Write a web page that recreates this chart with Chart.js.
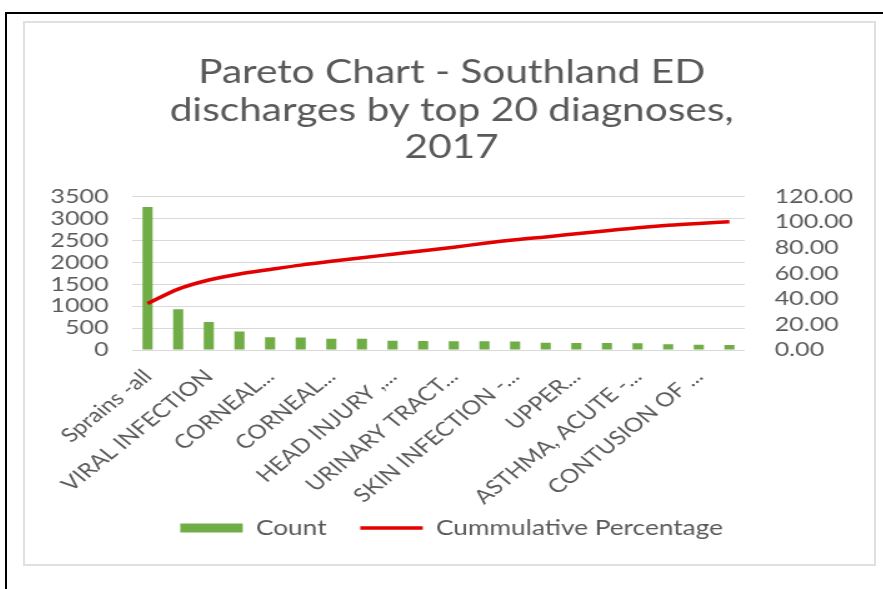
<!DOCTYPE html>
<html>
<head>
<meta charset="utf-8">
<script src="https://cdn.jsdelivr.net/npm/chart.js@4.4.1/dist/chart.umd.min.js"></script>
<style>
  html, body { margin: 0; padding: 0; background: #fff; }
  body { width: 883px; height: 589px; position: relative; overflow: hidden; }
  #frame { position: absolute; left: 5px; top: 12px; width: 900px; height: 600px; border-top: 2px solid #000; border-left: 2px solid #000; }
  #box { position: absolute; left: 23px; top: 21px; width: 849px; height: 541px; border: 2px solid #e0e0e0; }
  /* the reference picture is stretched sideways, so the chart is too */
  #wrap { position: absolute; left: 26px; top: 24px; width: 676px; height: 539px; transform: scaleX(1.25); transform-origin: 0 0; }
</style>
</head>
<body>
<div id="frame"></div>
<div id="box"></div>
<div id="wrap"><canvas id="pareto" width="676" height="539"></canvas></div>
<script>
// only every other category name can be read on the axis
const categories = ['Sprains -all', '', 'VIRAL INFECTION', '', 'CORNEAL...', '', 'CORNEAL...', '',
  'HEAD INJURY ,...', '', 'URINARY TRACT...', '', 'SKIN INFECTION -...', '', 'UPPER...', '',
  'ASTHMA, ACUTE -...', '', 'CONTUSION OF ...', ''];
const counts = [3250, 925, 635, 420, 290, 285, 258, 255, 210, 205, 200, 198, 195, 165, 160, 158, 155, 130, 118, 115];
const cumPercent = [36.2, 47.5, 54.6, 59.3, 62.8, 66.2, 69.2, 72.0, 74.7, 77.4, 80.2, 83.2, 85.9, 88.2, 90.6, 93.0, 95.3, 97.2, 98.7, 100];
const titleLines = ['Pareto Chart - Southland ED', 'discharges by top 20 diagnoses,', '2017'];

const grey = '#595959';
const fam = 'Lato, "Open Sans", sans-serif';

new Chart(document.getElementById('pareto'), {
  data: {
    labels: categories,
    datasets: [{
      type: 'bar',
      label: 'Count',
      data: counts,
      backgroundColor: '#70ad47',
      barPercentage: 0.33,
      categoryPercentage: 1,
      yAxisID: 'y',
      order: 1
    }, {
      type: 'line',
      label: 'Cummulative Percentage',
      data: cumPercent,
      borderColor: '#e30000',
      backgroundColor: '#e30000',
      borderWidth: 3.5,
      pointRadius: 0,
      cubicInterpolationMode: 'monotone',
      yAxisID: 'y1',
      order: 0
    }]
  },
  options: {
    responsive: false,
    animation: false,
    layout: { padding: { left: 18, right: 13, top: 0, bottom: 14.5 } },
    scales: {
      x: {
        grid: { display: false },
        border: { display: false },
        ticks: {
          autoSkip: false, minRotation: 45, maxRotation: 45,
          color: grey, font: { family: fam, size: 19.5 }, padding: 7
        },
        afterFit: (s) => {
          s.height = 140.5;
          // long names run a little past the axis box, as they do in the picture
          s._computeLabelArea = () => undefined;
        }
      },
      y: {
        position: 'left',
        min: 0, max: 3500,
        ticks: {
          stepSize: 500, autoSkip: false, color: grey, font: { family: fam, size: 20 }, padding: 19,
          callback: (v) => String(v)
        },
        grid: { color: '#d9d9d9', drawTicks: false },
        border: { display: false },
        afterFit: (s) => { s.width = 67 }
      },
      y1: {
        position: 'right',
        min: 0, max: 120,
        ticks: {
          stepSize: 20, autoSkip: false, color: grey, font: { family: fam, size: 20 }, padding: 24,
          callback: (v) => v.toFixed(2)
        },
        grid: { display: false, drawTicks: false },
        border: { display: false },
        afterFit: (s) => { s.width = 88 }
      }
    },
    plugins: {
      title: {
        display: true,
        text: titleLines,
        color: grey,
        font: { family: fam, size: 32.5, weight: 'normal', lineHeight: 1.15 },
        padding: { top: 30, bottom: 30 }
      },
      legend: {
        position: 'bottom',
        labels: {
          usePointStyle: true,
          pointStyleWidth: 50,
          boxHeight: 9,
          padding: 27,
          color: grey,
          font: { family: fam, size: 21 },
          sort: (a, b) => a.datasetIndex - b.datasetIndex,
          generateLabels: (chart) => {
            const items = Chart.defaults.plugins.legend.labels.generateLabels(chart);
            items.forEach(it => { it.pointStyle = it.datasetIndex === 0 ? 'rect' : 'line' });
            return items;
          }
        }
      },
      tooltip: { enabled: false }
    }
  }
});
</script>
</body>
</html>
